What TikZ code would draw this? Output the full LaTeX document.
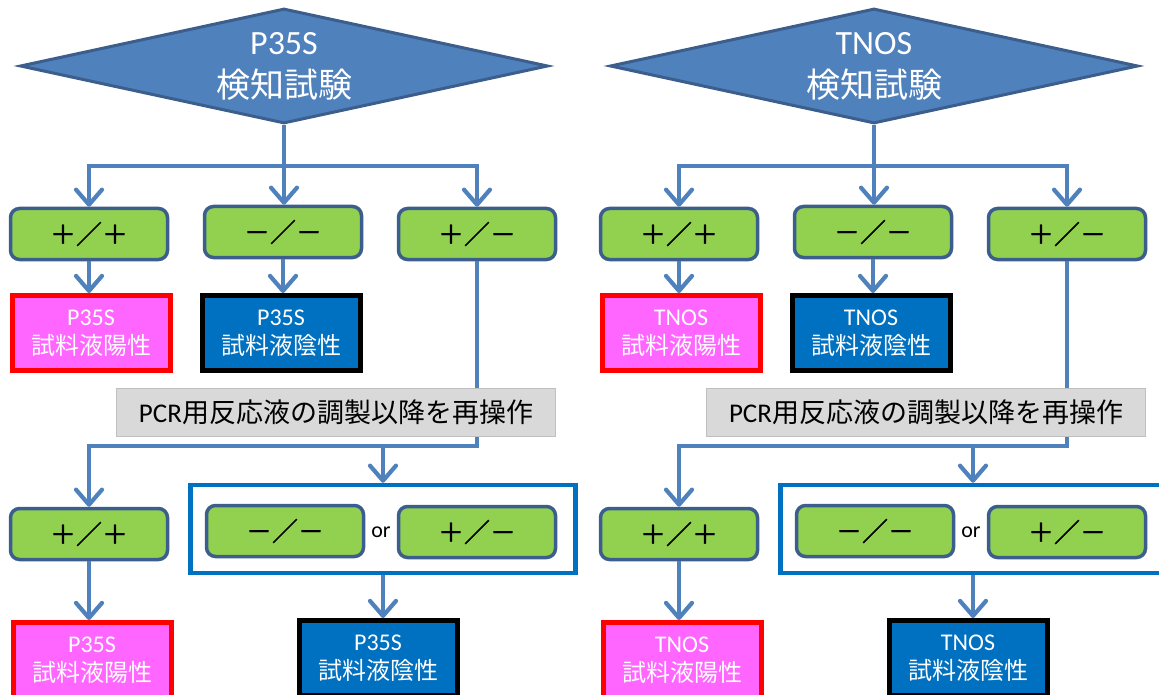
\documentclass[tikz,border=0pt]{standalone}
\usepackage{fontspec}
\setmainfont{Carlito}
\newfontfamily\jp{Noto Sans CJK JP}
\newfontfamily\jpcall{Noto Sans CJK JP}[FakeBold=1.2]
\usetikzlibrary{shapes.geometric,arrows.meta}
\definecolor{lineblue}{HTML}{4F81BD}
\definecolor{darkblue}{HTML}{3B5E8C}
\definecolor{leaf}{HTML}{92D050}
\definecolor{pinkfill}{HTML}{FF66FF}
\definecolor{negblue}{HTML}{0070C0}
\definecolor{redogray}{HTML}{D9D9D9}

\begin{document}
\begin{tikzpicture}[x=1pt,y=-1pt]
		\tikzstyle{test} = [diamond, draw=darkblue, line width=3pt, fill=lineblue, aspect=4.6, minimum width=528pt, minimum height=115pt, inner sep=0pt, text=white, align=center, font=\fontsize{34}{43}\selectfont]
		\tikzstyle{call} = [draw=darkblue, line width=3.5pt, fill=leaf, rounded corners=9pt, minimum width=157pt, minimum height=51pt, font=\jpcall\fontsize{26}{26}\selectfont]
		\tikzstyle{positive} = [draw=red, line width=5pt, fill=pinkfill, minimum width=158pt, minimum height=75pt, inner sep=0pt, text=white, align=center, font=\fontsize{24}{29}\selectfont]
		\tikzstyle{negative} = [positive, draw=black, fill=negblue]
		\tikzstyle{redo} = [draw=black!25, line width=1pt, fill=redogray, minimum width=439pt, minimum height=48pt, font=\fontsize{27}{27}\selectfont]
		\tikzstyle{orbox} = [draw=negblue, line width=4.5pt, minimum width=385pt, minimum height=88pt]
		\tikzstyle{flow} = [draw=lineblue, line width=4.2pt, -{Straight Barb[length=15pt,width=26pt,round]}]

		\useasboundingbox (0,0) rectangle (1159,695);
		\clip (0,0) rectangle (1159,695);

		\foreach \tag/\dx/\i in {P35S/0/1, TNOS/590/2} {
		\begin{scope}[xshift=\dx pt]
			% first test
			\node[test] (dia\i) at (284,66) {\tag\\{\jp 検知試験}};
			\node[call] (ppA\i) at (89,234) {＋／＋};
			\node[call] (mmA\i) at (283,232) {－／－};
			\node[call] (pmA\i) at (477,234) {＋／－};
			\node[positive] (posA\i) at (91,333) {\tag\\{\jp 試料液陽性}};
			\node[negative] (negA\i) at (281,333) {\tag\\{\jp 試料液陰性}};

			% repeated test
			\node[call] (ppB\i) at (89,534) {＋／＋};
			\node[orbox] (grp\i) at (383,529) {};
			\node[call] (mmB\i) at (285,531) {－／－};
			\node[call] (pmB\i) at (477,532) {＋／－};
			\node[font=\fontsize{22}{22}\selectfont] (or\i) at (381,532) {or};
			\node[positive] (posB\i) at (92,660) {\tag\\{\jp 試料液陽性}};
			\node[negative] (negB\i) at (378,658) {\tag\\{\jp 試料液陰性}};

			\coordinate (fork\i) at (284,166);
			\coordinate (merge\i) at (pmA\i.south |- 0,446);
			\draw[flow] (dia\i.south) -- (dia\i.south |- mmA\i.north);
			\draw[flow] (fork\i) -| (ppA\i.north);
			\draw[flow] (fork\i) -| (pmA\i.north);
			\draw[flow] (ppA\i.south) -- (ppA\i.south |- posA\i.north);
			\draw[flow] (mmA\i.south) -- (mmA\i.south |- negA\i.north);
			\draw[flow] (pmA\i.south) -- (merge\i) -| (ppB\i.north);
			\draw[flow] (merge\i -| grp\i.north) -- (grp\i.north);
			\draw[flow] (ppB\i.south) -- (ppB\i.south |- posB\i.north);
			\draw[flow] (grp\i.south) -- (grp\i.south |- negB\i.north);

			\node[redo] (redo\i) at (336,412) {PCR{\jp 用反応液の調製以降を再操作}};
		\end{scope}
		}
\end{tikzpicture}
\end{document}
